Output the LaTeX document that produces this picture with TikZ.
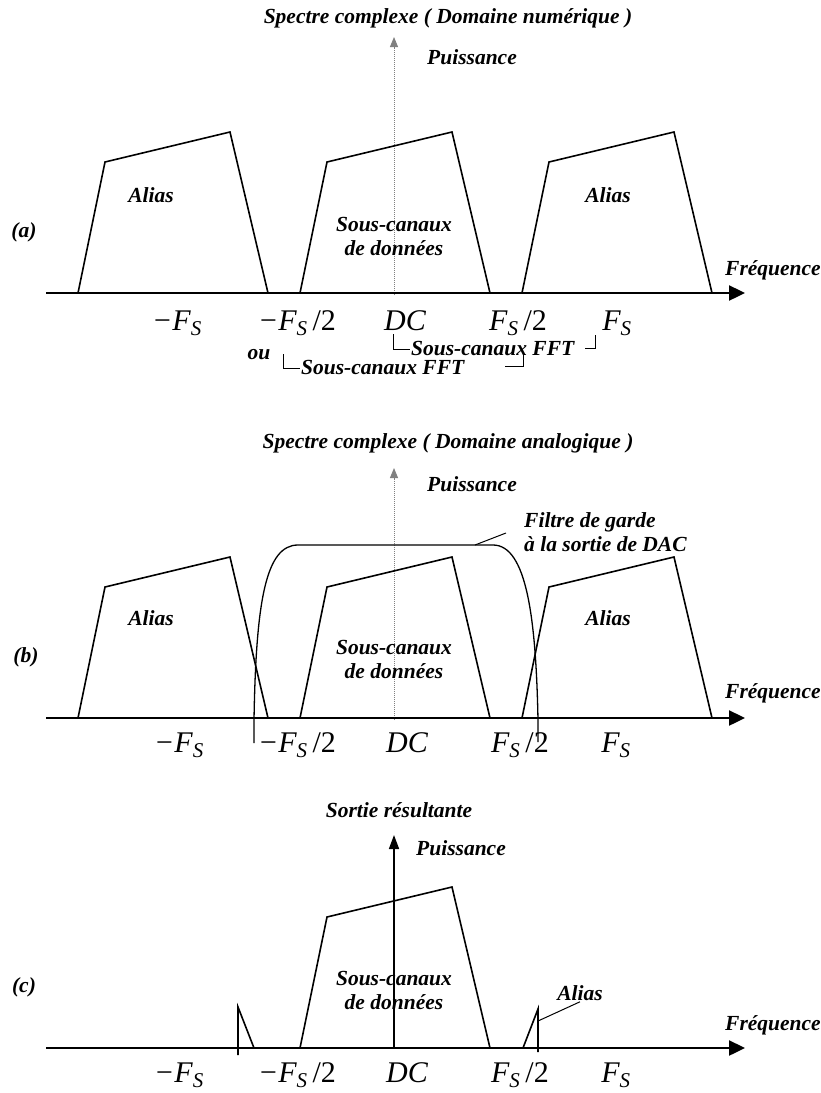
\documentclass[tikz,border=0pt]{standalone}
\usepackage{fontspec}
\setmainfont{Liberation Serif}
\usetikzlibrary{arrows.meta}

\tikzset{
  lbl/.style={font=\fontsize{21.5}{24}\selectfont\bfseries\itshape, inner sep=1pt},
  axlbl/.style={font=\fontsize{30}{32}\selectfont\itshape, inner sep=1pt, anchor=base},
  band/.style={line width=1.6pt, line join=miter},
  faxis/.style={line width=2.4pt, -{Triangle[length=16pt,width=15pt]}},
  paxis/.style={gray, densely dotted, line width=1pt, -{Triangle[length=10pt,width=8pt]}},
}

% one spectral band: bottom left x, axis y
\newcommand\spec[2]{\draw[band] (#1,#2) -- ++(27,-131) -- ++(125,-30) -- ++(38,161);}

\begin{document}
\begin{tikzpicture}[x=1pt,y=-1pt]
  \useasboundingbox (0,0) rectangle (821,1093);

  % (a) numerique
  \node[lbl] (ta) at (448,18) {Spectre complexe ( Domaine numérique )};
  \coordinate (a-o) at (394,295);
  \coordinate (a-t) at (394,37);
  \draw[paxis] (a-o) -- (a-t);
  \node[lbl] (pa) at (472,57) {Puissance};
  \foreach \bx in {78,300,522} \spec{\bx}{293};
  \coordinate (a-l) at (46,293);
  \coordinate (a-r) at (745,293);
  \draw[faxis] (a-l) -- (a-r);
  \node[lbl] (fa) at (773,270) {Fréquence};
  \node[lbl] (la) at (24,232) {(a)};
  \node[lbl] (a-al1) at (151,195) {Alias};
  \node[lbl] (a-al2) at (608,195) {Alias};
  \node[lbl, align=center] (a-sc) at (394,236) {Sous-canaux\\de données};
  \foreach \x/\t/\n in {177/{−F\textsubscript{S}}/m1, 297/{−F\textsubscript{S}\,\textup{/2}}/m2,
      405/{DC}/dc, 518/{F\textsubscript{S}\,\textup{/2}}/p2, 617/{F\textsubscript{S}}/p1}
    \node[axlbl] (a-\n) at (\x,330) {\t};
  % sous-canaux FFT
  \node[lbl, anchor=west] (a-fft1) at (410,349) {Sous-canaux FFT};
  \draw[line width=1pt] (393,334) |- (a-fft1.west);
  \draw[line width=1pt] (585,348) -- (595,348) -- (595,335);
  \node[lbl] (ou) at (259,355) {ou};
  \node[lbl, anchor=west] (a-fft2) at (300,368) {Sous-canaux FFT};
  \draw[line width=1pt] (283,354) |- (a-fft2.west);
  \draw[line width=1pt] (505,366) -- (523,366) -- (523,352);

  % (b) analogique
  \node[lbl] (tb) at (448,443) {Spectre complexe ( Domaine analogique )};
  \coordinate (b-o) at (394,720);
  \coordinate (b-t) at (394,468);
  \draw[paxis] (b-o) -- (b-t);
  \node[lbl] (pb) at (472,484) {Puissance};
  \foreach \bx in {78,300,522} \spec{\bx}{718};
  \coordinate (b-l) at (46,718);
  \coordinate (b-r) at (745,718);
  \draw[faxis] (b-l) -- (b-r);
  \node[lbl] (fb) at (773,693) {Fréquence};
  \node[lbl] (lb) at (26,657) {(b)};
  \node[lbl] (b-al1) at (151,618) {Alias};
  \node[lbl] (b-al2) at (608,618) {Alias};
  \node[lbl, align=center] (b-sc) at (394,659) {Sous-canaux\\de données};
  \foreach \x/\t/\n in {179/{−F\textsubscript{S}}/m1, 297/{−F\textsubscript{S}\,\textup{/2}}/m2,
      407/{DC}/dc, 520/{F\textsubscript{S}\,\textup{/2}}/p2, 616/{F\textsubscript{S}}/p1}
    \node[axlbl] (b-\n) at (\x,752) {\t};
  % filtre de garde
  \draw[band, line width=1.3pt] (254,743) -- (254,720)
    .. controls (256,600) and (266,545) .. (298,545) -- (493,545)
    .. controls (527,545) and (536,620) .. (538,720) -- (538,742);
  \coordinate (b-f) at (475,545);
  \node[lbl, align=left, anchor=west] (flt) at (523,532) {Filtre de garde\\à la sortie de DAC};
  \draw[line width=1pt] (b-f) -- (506,533);

  % (c) sortie
  \node[lbl] (tc) at (399,810) {Sortie résultante};
  \coordinate (c-o) at (394,1048);
  \coordinate (c-t) at (394,835);
  \draw[line width=1.6pt, -{Triangle[length=14pt,width=10pt]}] (c-o) -- (c-t);
  \node[lbl] (pc) at (461,848) {Puissance};
  \spec{300}{1048}
  \draw[band] (238,1055) -- (238,1007) -- (254,1048);
  \draw[band] (523,1048) -- (538,1009) -- (538,1052);
  \coordinate (c-l) at (46,1048);
  \coordinate (c-r) at (745,1048);
  \draw[faxis] (c-l) -- (c-r);
  \node[lbl] (fc) at (773,1025) {Fréquence};
  \node[lbl] (lc) at (24,987) {(c)};
  \node[lbl, align=center] (c-sc) at (394,990) {Sous-canaux\\de données};
  \node[lbl] (c-al) at (580,993) {Alias};
  \coordinate (c-s) at (538,1021);
  \draw[line width=1pt] (c-s) -- (c-al.south);
  \foreach \x/\t/\n in {179/{−F\textsubscript{S}}/m1, 297/{−F\textsubscript{S}\,\textup{/2}}/m2,
      407/{DC}/dc, 520/{F\textsubscript{S}\,\textup{/2}}/p2, 616/{F\textsubscript{S}}/p1}
    \node[axlbl] (c-\n) at (\x,1082) {\t};
\end{tikzpicture}
\end{document}
